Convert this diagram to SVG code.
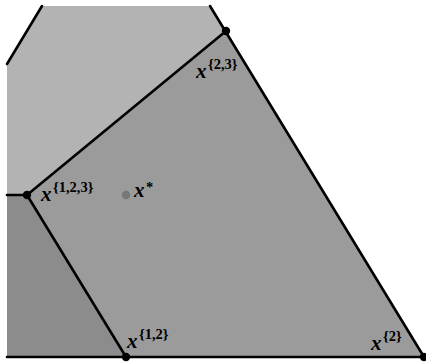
<svg xmlns="http://www.w3.org/2000/svg" width="426" height="362" viewBox="0 0 426 362">
<style>
.edge{stroke:#000;stroke-width:2.6;fill:none;stroke-linecap:round}
.v{fill:#000}
.lbl{font-family:"Liberation Serif","DejaVu Serif",serif;font-style:italic;font-weight:bold;font-size:21px;fill:#000}
.sup{font-family:"Liberation Serif","DejaVu Serif",serif;font-weight:bold;font-size:14.5px;fill:#000}
</style>
<rect width="426" height="362" fill="#fff"/>
<g id="regions">
<polygon id="r3" points="42,6 210,6 226,31 27,195 7,195 7,64" fill="#b3b3b3"/>
<polygon id="r2" points="226,31 424,357 126,357 27,195" fill="#9b9b9b"/>
<polygon id="r1" points="7,195 27,195 126,357 7,357" fill="#8c8c8c"/>
</g>
<g id="connectors">
<line class="edge" x1="42" y1="6" x2="7" y2="64"/>
<line class="edge" x1="210" y1="6" x2="424" y2="357"/>
<line class="edge" x1="7" y1="357" x2="424" y2="357"/>
<line class="edge" x1="7" y1="195" x2="27" y2="195"/>
<line class="edge" x1="27" y1="195" x2="226" y2="31"/>
<line class="edge" x1="27" y1="195" x2="126" y2="357"/>
</g>
<g id="n123"><circle class="v" cx="27" cy="195" r="4.2"/><text class="lbl" x="41" y="201">x</text><text class="sup" x="53" y="192">{1,2,3}</text></g>
<g id="n23"><circle class="v" cx="226" cy="31" r="4.2"/><text class="lbl" x="196" y="78">x</text><text class="sup" x="208" y="69">{2,3}</text></g>
<g id="n12"><circle class="v" cx="126" cy="357" r="4.2"/><text class="lbl" x="127" y="348">x</text><text class="sup" x="139" y="339">{1,2}</text></g>
<g id="n2"><circle class="v" cx="424" cy="357" r="4.2"/><text class="lbl" x="371" y="350">x</text><text class="sup" x="383" y="341">{2}</text></g>
<g id="xstar"><circle cx="126" cy="195" r="4.2" fill="#777"/><text class="lbl" x="134" y="197">x</text><text class="sup" x="146" y="192">*</text></g>
</svg>
